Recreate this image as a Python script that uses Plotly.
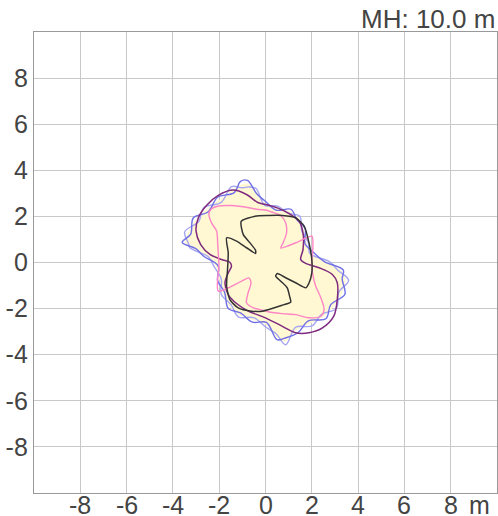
import plotly.graph_objects as go

# ---- data ----
tick_vals = [-8, -6, -4, -2, 0, 2, 4, 6, 8]
tick_text = ["-8", "-6", "-4", "-2", "0", "2", "4", "6", "8"]
mh_label = "MH: 10.0 m"
unit_label = "m"

# yellow filled region
fill_x = [-0.75, -0.39, -0.03, 0.48, 1.06, 1.42, 1.64, 1.78, 2.00, 2.65, 3.23, 3.45, 3.30, 2.94, 2.51, 1.93, 1.35, 0.84,
          0.48, 0.04, -0.54, -1.12, -1.55, -1.84, -1.99, -2.13, -2.57, -3.14, -3.46, -3.36, -3.00, -2.57, -1.99, -1.41, -1.04, -0.75]
fill_y = [3.42, 3.09, 2.58, 2.36, 2.22, 1.93, 1.42, 0.84, 0.41, 0.04, -0.32, -0.75, -1.33, -1.91, -2.35, -2.64, -2.93, -3.43,
          -3.22, -2.71, -2.49, -2.28, -1.91, -1.33, -0.75, -0.17, 0.26, 0.62, 0.84, 1.28, 1.86, 2.29, 2.72, 3.16, 3.38, 3.42]

# light blue contour
blue_l_x = [-0.72, -0.41, -0.03, 0.50, 1.02, 1.48, 1.57, 1.85, 1.92, 2.76, 3.10, 3.59, 3.17, 3.06, 2.41, 2.01, 1.30, 0.87,
            0.46, 0.04, -0.52, -1.16, -1.49, -1.91, -1.91, -2.22, -2.47, -3.27, -3.32, -3.49, -2.88, -2.67, -1.91, -1.47, -1.00, -0.72]
blue_l_y = [3.28, 3.21, 2.48, 2.45, 2.13, 2.01, 1.36, 0.87, 0.39, 0.04, -0.31, -0.78, -1.28, -1.99, -2.26, -2.75, -2.81, -3.57,
            -3.09, -2.82, -2.39, -2.37, -1.83, -1.38, -0.72, -0.18, 0.25, 0.64, 0.81, 1.33, 1.79, 2.38, 2.61, 3.29, 3.24, 3.28]

# blue contour
blue_d_x = [-0.78, -0.37, -0.03, 0.46, 1.10, 1.36, 1.71, 1.71, 2.08, 2.54, 3.36, 3.31, 3.43, 2.82, 2.61, 1.85, 1.40, 0.81,
            0.50, 0.04, -0.56, -1.08, -1.61, -1.77, -2.07, -2.04, -2.67, -3.01, -3.60, -3.23, -3.12, -2.47, -2.07, -1.35, -1.08, -0.78]
blue_d_y = [3.56, 2.97, 2.68, 2.27, 2.31, 1.85, 1.48, 0.81, 0.43, 0.04, -0.33, -0.72, -1.38, -1.83, -2.44, -2.53, -3.05, -3.29,
            -3.35, -2.60, -2.59, -2.19, -1.99, -1.28, -0.78, -0.16, 0.27, 0.60, 0.87, 1.23, 1.93, 2.20, 2.83, 3.03, 3.52, 3.56]

# purple contour
purple_x = [-1.39, -0.82, -0.31, 0.00, 0.51, 1.02, 1.45, 1.62, 1.62, 1.52, 1.74, 2.32, 2.89, 3.10, 3.10, 2.95, 2.46, 1.88,
            1.30, 0.73, 0.00, -0.74, -1.25, -1.61, -1.75, -1.61, -1.47, -1.54, -1.90, -2.40, -2.80, -3.00, -2.90, -2.55, -2.04, -1.39]
purple_y = [3.14, 2.95, 2.59, 2.52, 2.37, 2.12, 1.79, 1.29, 0.56, 0.13, -0.04, -0.23, -0.52, -0.88, -1.61, -2.33, -2.84, -3.05,
            -3.05, -2.77, -2.40, -2.11, -1.78, -1.39, -0.88, -0.45, -0.16, 0.01, 0.13, 0.35, 0.78, 1.36, 1.94, 2.47, 2.91, 3.14]

# pink contour
pink_x = [-2.45, -2.33, -2.04, -1.47, -0.89, -0.31, 0.00, 0.29, 0.66, 0.87, 0.91, 0.76, 0.66, 0.94, 1.45, 2.00, 2.05, 2.00,
          2.03, 2.17, 2.39, 2.53, 2.39, 1.88, 1.30, 0.73, 0.15, -0.30, -0.53, -0.82, -0.77, -0.63, -0.72, -1.03, -1.61, -2.04,
          -2.07, -2.01, -2.04, -2.07, -2.11, -2.33, -2.45]
pink_y = [2.12, 2.33, 2.45, 2.47, 2.41, 2.30, 2.28, 2.18, 2.04, 1.72, 1.29, 0.85, 0.63, 0.71, 0.92, 1.14, 0.71, 0.13,
          -0.45, -1.03, -1.53, -2.04, -2.33, -2.40, -2.26, -2.22, -2.15, -2.02, -1.97, -1.75, -1.39, -0.88, -0.67, -0.81, -1.10, -1.24,
          -0.74, -0.16, 0.42, 0.92, 1.36, 1.72, 2.12]

# dark inner contour
dark_x = [-1.05, -0.45, 0.12, 0.73, 1.30, 1.67, 1.88, 2.00, 2.00, 1.88, 1.74, 1.30, 0.87, 0.51, 0.44, 0.66, 0.94, 1.04, 1.09,
          0.73, -0.14, -0.60, -1.18, -1.54, -1.68, -1.64, -1.61, -1.68, -1.25, -0.82, -0.43, -0.43, -0.67, -0.96, -1.05]
dark_y = [1.78, 2.01, 2.04, 2.04, 1.94, 1.58, 0.85, 0.13, -0.45, -0.89, -1.10, -0.88, -0.66, -0.48, -0.59, -0.81, -1.10, -1.46, -1.72,
          -1.85, -2.11, -2.11, -1.97, -1.61, -1.03, -0.30, 0.42, 1.07, 0.93, 0.64, 0.39, 0.53, 0.85, 1.21, 1.78]

FONT = "Liberation Sans, Arial, sans-serif"
TXT = "#444444"
fig = go.Figure()
fig.add_trace(go.Scatter(x=fill_x, y=fill_y, mode="lines", fill="toself", fillcolor="#fff8d2",
                         line=dict(width=0, shape="spline", smoothing=0.8), hoverinfo="skip"))
fig.add_trace(go.Scatter(x=blue_l_x, y=blue_l_y, mode="lines",
                         line=dict(color="#a6a6f2", width=1.4, shape="spline", smoothing=1.0)))
fig.add_trace(go.Scatter(x=blue_d_x, y=blue_d_y, mode="lines",
                         line=dict(color="#6f6fe6", width=1.4, shape="spline", smoothing=1.0)))
fig.add_trace(go.Scatter(x=purple_x, y=purple_y, mode="lines",
                         line=dict(color="#7e2a7e", width=1.5, shape="spline", smoothing=0.9)))
fig.add_trace(go.Scatter(x=pink_x, y=pink_y, mode="lines",
                         line=dict(color="#ff86c6", width=1.4, shape="spline", smoothing=0.8)))
fig.add_trace(go.Scatter(x=dark_x, y=dark_y, mode="lines",
                         line=dict(color="#333333", width=1.5, shape="spline", smoothing=0.6)))

axis_common = dict(range=[-10, 10], tickmode="array", tickvals=tick_vals, ticktext=tick_text,
                   showgrid=True, gridcolor="#c8c8c8", gridwidth=1.3, zeroline=False,
                   showline=True, linecolor="#999999", linewidth=1.3, mirror=True, automargin=False,
                   ticks="", ticklen=0, tickfont=dict(family=FONT, size=25, color=TXT), fixedrange=True)

# x tick labels sit close under the axis: place them at the axis' own tick values
x_label_annots = [dict(text=t, xref="x", yref="paper", x=v, y=0, xanchor="center", yanchor="top",
                       height=20, valign="middle", borderpad=0,
                       showarrow=False, font=dict(family=FONT, size=25, color=TXT), yshift=-1)
                  for v, t in zip(tick_vals, tick_text)]

fig.update_layout(
    width=498, height=516,
    margin=dict(l=34, r=1, t=32, b=23),
    paper_bgcolor="white", plot_bgcolor="white",
    showlegend=False,
    font=dict(family=FONT, color=TXT),
    xaxis=dict(**axis_common, showticklabels=False),
    yaxis=dict(**axis_common, ticklabelstandoff=0),
    annotations=x_label_annots + [
        dict(text=mh_label, xref="paper", yref="paper", x=1, y=1, xanchor="right", yanchor="bottom",
             showarrow=False, font=dict(family=FONT, size=26, color=TXT), yshift=-4, xshift=0),
        dict(text=unit_label, xref="paper", yref="paper", x=0.963, y=0, xanchor="center", yanchor="top",
             height=20, valign="middle", borderpad=0,
             showarrow=False, font=dict(family=FONT, size=25, color=TXT), yshift=-1),
    ],
)
# remove the page's default body margin so the 498x516 figure fills the window exactly
fig.write_html("out.html", config={"displayModeBar": False},
               post_script="document.body.style.margin='0';document.body.style.overflow='hidden';")
